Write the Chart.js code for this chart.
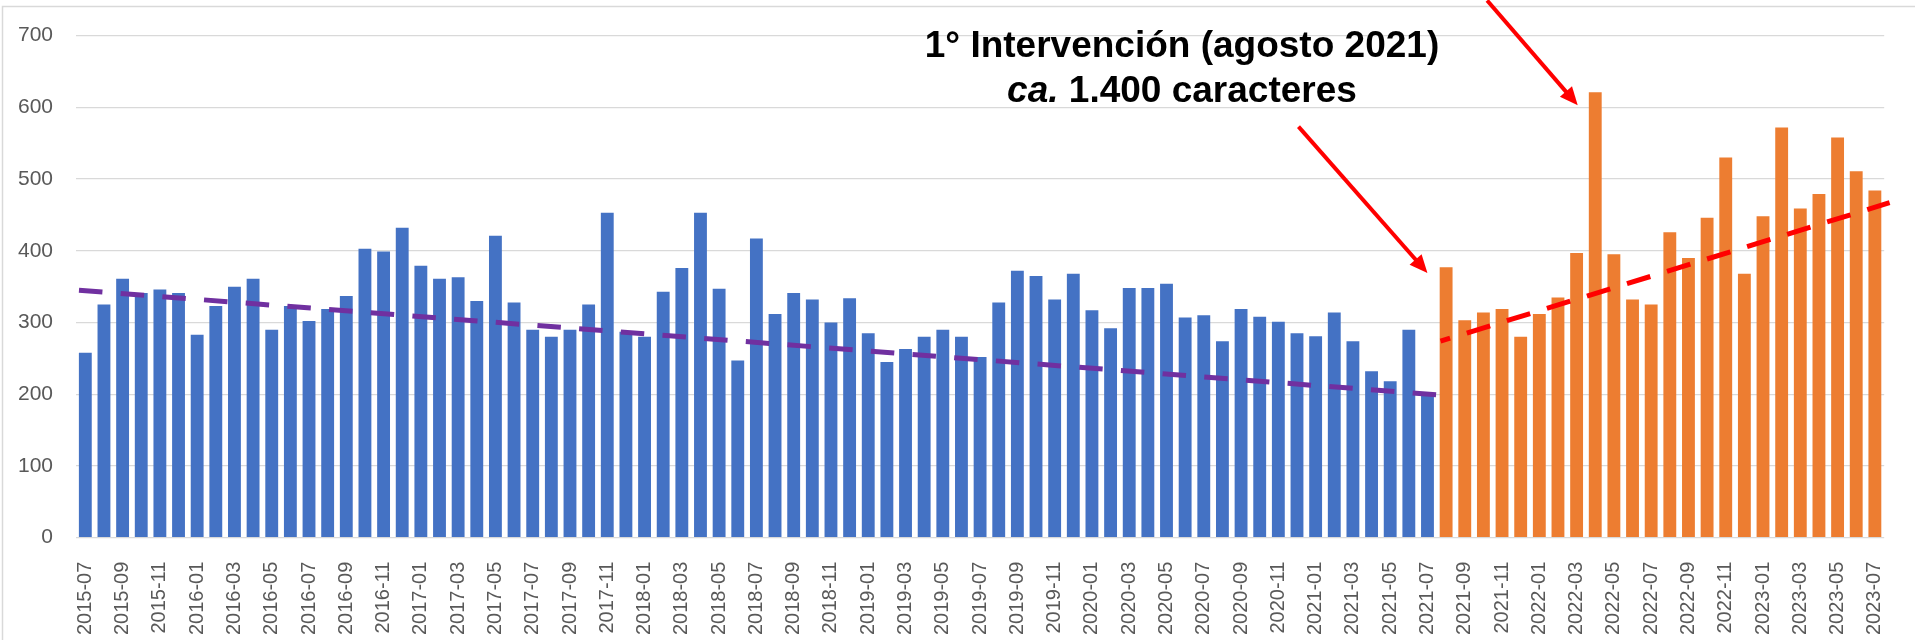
<!DOCTYPE html>
<html lang="es">
<head>
<meta charset="utf-8">
<title>Caracteres por mes</title>
<script src="https://cdn.jsdelivr.net/npm/chart.js@4"></script>
<style>
  html, body { margin: 0; padding: 0; background: #ffffff; }
  #wrap { position: relative; width: 1915px; height: 640px; }
</style>
</head>
<body>
<div id="wrap"><canvas id="chart"></canvas></div>
<script>
/* Caracteres por mes, antes y después de la intervención de agosto 2021 */

const BLUE = "#4472C4";
const ORANGE = "#ED7D31";
const PURPLE = "#7030A0";
const RED = "#FF0000";
const GRID = "#d9d9d9";
const INK2 = "#595959";
const FONT = '"Liberation Sans", Arial, sans-serif';

const MONTHS = [
  "2015-07", "2015-08", "2015-09", "2015-10", "2015-11", "2015-12",
  "2016-01", "2016-02", "2016-03", "2016-04", "2016-05", "2016-06",
  "2016-07", "2016-08", "2016-09", "2016-10", "2016-11", "2016-12",
  "2017-01", "2017-02", "2017-03", "2017-04", "2017-05", "2017-06",
  "2017-07", "2017-08", "2017-09", "2017-10", "2017-11", "2017-12",
  "2018-01", "2018-02", "2018-03", "2018-04", "2018-05", "2018-06",
  "2018-07", "2018-08", "2018-09", "2018-10", "2018-11", "2018-12",
  "2019-01", "2019-02", "2019-03", "2019-04", "2019-05", "2019-06",
  "2019-07", "2019-08", "2019-09", "2019-10", "2019-11", "2019-12",
  "2020-01", "2020-02", "2020-03", "2020-04", "2020-05", "2020-06",
  "2020-07", "2020-08", "2020-09", "2020-10", "2020-11", "2020-12",
  "2021-01", "2021-02", "2021-03", "2021-04", "2021-05", "2021-06",
  "2021-07", "2021-08", "2021-09", "2021-10", "2021-11", "2021-12",
  "2022-01", "2022-02", "2022-03", "2022-04", "2022-05", "2022-06",
  "2022-07", "2022-08", "2022-09", "2022-10", "2022-11", "2022-12",
  "2023-01", "2023-02", "2023-03", "2023-04", "2023-05", "2023-06",
  "2023-07",
];

// 2015-07 … 2021-07
const BEFORE = [
  258, 325, 361, 341, 346, 341,
  283, 323, 350, 361, 290, 323, 302, 319, 337, 403, 399, 432,
  379, 361, 363, 330, 421, 328, 290, 280, 290, 325, 453, 287,
  280, 343, 376, 453, 347, 247, 417, 312, 341, 332, 300, 334,
  285, 245, 263, 280, 290, 280, 252, 328, 372, 365, 332, 368,
  317, 292, 348, 348, 354, 307, 310, 274, 319, 308, 301, 285,
  281, 314, 274, 232, 218, 290, 198,
];

// 2021-08 … 2023-07
const AFTER = [
  377, 303, 314, 319, 280,
  312, 335, 397, 621, 395, 332, 325, 426, 390, 446, 530, 368,
  448, 572, 459, 479, 558, 511, 484,
];

// Líneas de tendencia: extremos (índice de mes, valor)
const TREND_BEFORE_X = [-0.34, 72.58];
const TREND_BEFORE_Y = [345, 199];
const TREND_AFTER_X = [72.7, 96.79];
const TREND_AFTER_Y = [274, 467];

const Y_TICKS = [0, 100, 200, 300, 400, 500, 600, 700];

// Anotaciones en coordenadas de datos (índice de mes, valor)
const NOTE_LINE1 = "1° Intervención (agosto 2021)";
const NOTE_ITALIC = "ca.";
const NOTE_REST = " 1.400 caracteres";
const NOTE_AT = { x: 58.83, y1: 670, y2: 607 };
const ARROWS = [
  { from: [65.08, 573], to: [72.0, 369] },
  { from: [75.2, 749], to: [80.06, 603] },
];

const pad = (arr, before, after) =>
  [...new Array(before).fill(null), ...arr, ...new Array(after).fill(null)];

const points = (xs, ys) => xs.map((x, i) => ({ x, y: ys[i] }));

function drawArrow(ctx, x1, y1, x2, y2) {
  const ang = Math.atan2(y2 - y1, x2 - x1);
  const head = 18;
  const half = 8;
  const bx = x2 - head * Math.cos(ang);
  const by = y2 - head * Math.sin(ang);
  ctx.beginPath();
  ctx.moveTo(x1, y1);
  ctx.lineTo(bx + 2 * Math.cos(ang), by + 2 * Math.sin(ang));
  ctx.stroke();
  ctx.beginPath();
  ctx.moveTo(x2, y2);
  ctx.lineTo(bx + half * Math.sin(ang), by - half * Math.cos(ang));
  ctx.lineTo(bx - half * Math.sin(ang), by + half * Math.cos(ang));
  ctx.closePath();
  ctx.fill();
}

const notesPlugin = {
  id: "notes",
  beforeDraw(chart) {
    const { ctx, width, height } = chart;
    ctx.save();
    ctx.strokeStyle = GRID;
    ctx.lineWidth = 1.5;
    ctx.strokeRect(2.5, 6.5, width + 20, height + 20);
    ctx.restore();
  },
  afterDatasetsDraw(chart) {
    const { ctx } = chart;
    const xs = chart.scales.xt;
    const ys = chart.scales.y;
    ctx.save();

    ctx.strokeStyle = RED;
    ctx.fillStyle = RED;
    ctx.lineWidth = 4;
    ARROWS.forEach((a) => {
      drawArrow(
        ctx,
        xs.getPixelForValue(a.from[0]), ys.getPixelForValue(a.from[1]),
        xs.getPixelForValue(a.to[0]), ys.getPixelForValue(a.to[1])
      );
    });

    const cx = xs.getPixelForValue(NOTE_AT.x);
    ctx.fillStyle = "#000000";
    ctx.textBaseline = "alphabetic";
    ctx.textAlign = "center";
    ctx.font = `bold 37px ${FONT}`;
    ctx.fillText(NOTE_LINE1, cx, ys.getPixelForValue(NOTE_AT.y1));

    const italicFont = `italic bold 37px ${FONT}`;
    const boldFont = `bold 37px ${FONT}`;
    ctx.font = italicFont;
    const w1 = ctx.measureText(NOTE_ITALIC).width;
    ctx.font = boldFont;
    const w2 = ctx.measureText(NOTE_REST).width;
    const x = cx - (w1 + w2) / 2;
    const y2 = ys.getPixelForValue(NOTE_AT.y2);
    ctx.textAlign = "left";
    ctx.font = italicFont;
    ctx.fillText(NOTE_ITALIC, x, y2);
    ctx.font = boldFont;
    ctx.fillText(NOTE_REST, x + w1, y2);

    ctx.restore();
  },
};

new Chart(document.getElementById("chart"), {
  type: "bar",
  data: {
    labels: MONTHS,
    datasets: [
      {
        label: "Antes",
        data: pad(BEFORE, 0, AFTER.length),
        backgroundColor: BLUE,
        grouped: false,
        barPercentage: 0.69,
        categoryPercentage: 1,
        order: 2,
      },
      {
        label: "Después",
        data: pad(AFTER, BEFORE.length, 0),
        backgroundColor: ORANGE,
        grouped: false,
        barPercentage: 0.69,
        categoryPercentage: 1,
        order: 2,
      },
      {
        type: "line",
        label: "Tendencia antes",
        xAxisID: "xt",
        data: points(TREND_BEFORE_X, TREND_BEFORE_Y),
        borderColor: PURPLE,
        borderWidth: 5,
        borderDash: [23.5, 18.3],
        borderCapStyle: "butt",
        pointRadius: 0,
        clip: false,
        order: 1,
      },
      {
        type: "line",
        label: "Tendencia después",
        xAxisID: "xt",
        data: points(TREND_AFTER_X, TREND_AFTER_Y),
        borderColor: RED,
        borderWidth: 5,
        borderDash: [24.4, 17.5],
        borderDashOffset: 14.4,
        borderCapStyle: "butt",
        pointRadius: 0,
        clip: false,
        order: 1,
      },
    ],
  },
  options: {
    responsive: true,
    maintainAspectRatio: false,
    animation: false,
    layout: { padding: { top: 35.4, right: 25.7, bottom: 0, left: 0 } },
    plugins: {
      legend: { display: false },
      tooltip: { enabled: false },
    },
    scales: {
      x: {
        offset: true,
        grid: { display: false },
        border: { display: false },
        ticks: {
          autoSkip: false,
          minRotation: 90,
          maxRotation: 90,
          padding: 16,
          color: INK2,
          font: { family: FONT, size: 20 },
          callback: (value, index) => (index % 2 === 0 ? MONTHS[index] : ""),
        },
        afterFit: (scale) => { scale.height = 102.3; },
      },
      // eje lineal oculto, alineado con las categorías (índice -0.5 … 96.5)
      xt: {
        type: "linear",
        display: false,
        offset: false,
        grid: { offset: false },
        min: -0.5,
        max: MONTHS.length - 0.5,
      },
      y: {
        min: 0,
        max: 700,
        afterBuildTicks: (scale) => {
          scale.ticks = Y_TICKS.map((v) => ({ value: v }));
        },
        grid: { color: GRID, lineWidth: 1.3, drawTicks: false },
        border: { display: false },
        ticks: {
          padding: 23,
          color: INK2,
          font: { family: FONT, size: 21 },
        },
        afterFit: (scale) => { scale.width = 76; },
      },
    },
  },
  plugins: [notesPlugin],
});
</script>
</body>
</html>
